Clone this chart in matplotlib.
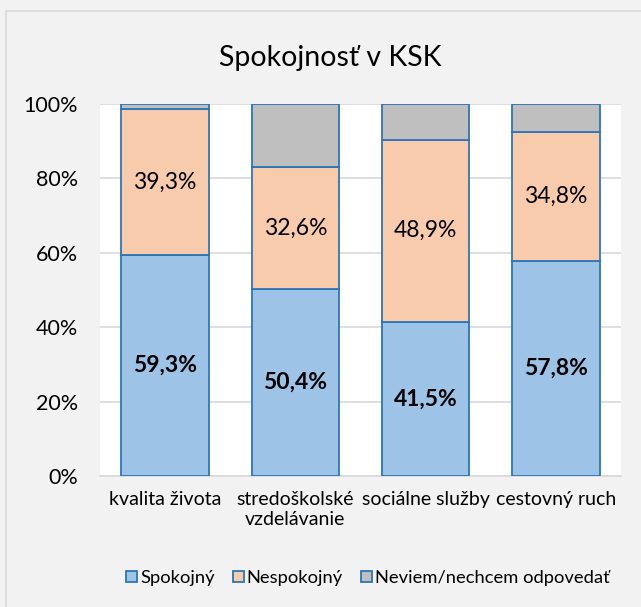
import matplotlib.pyplot as plt
import numpy as np
from matplotlib.patches import Rectangle

plt.rcParams['font.family'] = ['Lato', 'DejaVu Sans']

# data
categories = ["kvalita života", "stredoškolské\nvzdelávanie", "sociálne služby", "cestovný ruch"]
spokojny = [59.3, 50.4, 41.5, 57.8]
nespokojny = [39.3, 32.6, 48.9, 34.8]
neviem = [1.4, 17.0, 9.6, 7.4]
series_names = ["Spokojný", "Nespokojný", "Neviem/nechcem odpovedať"]
colors = ["#9dc3e6", "#f8cbad", "#bfbfbf"]
edge = "#2e75b6"

fig = plt.figure(figsize=(6.41, 6.07), dpi=100, facecolor="#f2f2f2")
fig.patches.append(Rectangle((6 / 641, -0.1), 1.2, 1.1 - 11 / 607, transform=fig.transFigure,
                             facecolor="none", edgecolor="#d9d9d9", linewidth=1.2))
ax = fig.add_axes([100 / 641, 1 - 476 / 607, 521 / 641, 372 / 607])
ax.set_facecolor("white")

x = np.arange(len(categories))
w = 0.67
bottom = np.zeros(len(categories))
bars = []
for vals, c, name in zip([spokojny, nespokojny, neviem], colors, series_names):
    b = ax.bar(x, vals, w, bottom=bottom, color=c, edgecolor=edge, linewidth=1.3, label=name, zorder=3)
    bars.append(b)
    bottom += np.array(vals)

# data labels
for i in range(len(categories)):
    ax.text(x[i], spokojny[i] / 2, f"{spokojny[i]:.1f}%".replace(".", ","), ha="center", va="center",
            fontsize=16.5, fontweight="bold", zorder=4)
    ax.text(x[i], spokojny[i] + nespokojny[i] / 2, f"{nespokojny[i]:.1f}%".replace(".", ","),
            ha="center", va="center", fontsize=16.5, zorder=4)

ax.set_xlim(-0.5, len(categories) - 0.5)
ax.set_ylim(0, 100)
ax.set_yticks(np.arange(0, 101, 20))
ax.set_yticklabels([f"{v}%" for v in range(0, 101, 20)])
ax.set_xticks(x)
ax.set_xticklabels(categories)
ax.tick_params(axis="both", length=0, labelsize=14, colors="#000000")
ax.tick_params(axis="y", pad=16, labelsize=15.5)
ax.tick_params(axis="x", pad=11)
ax.grid(axis="y", color="#d9d9d9", linewidth=1.2, zorder=0)
for s in ["top", "right", "left"]:
    ax.spines[s].set_visible(False)
ax.spines["bottom"].set_color("#d9d9d9")
ax.spines["bottom"].set_linewidth(1.2)

fig.text(330 / 641, 1 - 58 / 607, "Spokojnosť v KSK", ha="center", va="center", fontsize=20.5)

fig.legend(handles=bars, labels=series_names, loc="center", bbox_to_anchor=(368 / 641, 1 - 578 / 607),
           ncol=3, frameon=False, fontsize=13.2, handlelength=0.6, handleheight=0.6,
           handletextpad=0.15, columnspacing=1.0)

plt.savefig("out.png", facecolor=fig.get_facecolor())
